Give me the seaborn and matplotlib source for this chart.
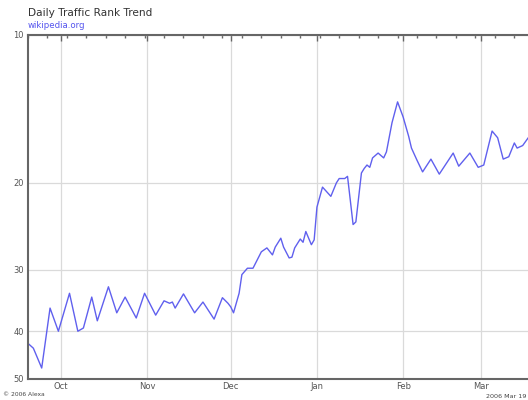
import matplotlib
matplotlib.use('Agg')
import matplotlib.pyplot as plt
import matplotlib.dates as mdates
from matplotlib.ticker import FixedLocator, FixedFormatter, NullFormatter
import pandas as pd
import seaborn as sns

# daily traffic rank (lower is better)
dates = [
    '2005-09-19', '2005-09-21', '2005-09-24', '2005-09-27', '2005-09-30',
    '2005-10-04', '2005-10-07', '2005-10-09', '2005-10-12', '2005-10-14',
    '2005-10-18', '2005-10-21', '2005-10-24', '2005-10-28', '2005-10-31',
    '2005-11-04', '2005-11-07', '2005-11-09', '2005-11-10', '2005-11-11',
    '2005-11-14', '2005-11-18', '2005-11-21', '2005-11-25', '2005-11-28',
    '2005-11-30', '2005-12-01', '2005-12-02', '2005-12-04', '2005-12-05',
    '2005-12-07', '2005-12-09', '2005-12-12', '2005-12-14', '2005-12-16',
    '2005-12-17', '2005-12-19', '2005-12-20', '2005-12-22', '2005-12-23',
    '2005-12-24', '2005-12-26', '2005-12-27', '2005-12-28', '2005-12-30',
    '2005-12-31', '2006-01-01', '2006-01-03', '2006-01-06', '2006-01-08',
    '2006-01-09', '2006-01-11', '2006-01-12', '2006-01-13', '2006-01-14',
    '2006-01-15', '2006-01-17', '2006-01-18', '2006-01-19', '2006-01-20',
    '2006-01-21', '2006-01-23', '2006-01-25', '2006-01-26', '2006-01-28',
    '2006-01-30', '2006-02-01', '2006-02-03', '2006-02-04', '2006-02-06',
    '2006-02-08', '2006-02-11', '2006-02-14', '2006-02-19', '2006-02-21',
    '2006-02-25', '2006-02-28', '2006-03-01', '2006-03-02', '2006-03-05',
    '2006-03-07', '2006-03-09', '2006-03-11', '2006-03-13', '2006-03-14',
    '2006-03-16', '2006-03-18', '2006-03-19',
]
ranks = [
    42.3, 43.3, 47.5, 35.9, 40.0,
    33.5, 40.0, 39.4, 34.1, 38.1,
    32.5, 36.7, 34.1, 37.6, 33.5,
    37.1, 34.7, 35.1, 34.9, 35.9,
    33.6, 36.7, 34.9, 37.8, 34.2,
    35.1, 35.7, 36.7, 33.5, 30.7,
    29.8, 29.8, 27.6, 27.1, 28.0,
    27.0, 25.9, 27.0, 28.4, 28.3,
    27.1, 26.0, 26.4, 25.1, 26.7,
    26.1, 22.4, 20.4, 21.3, 20.0,
    19.6, 19.6, 19.4, 21.7, 24.3,
    24.0, 19.1, 18.7, 18.4, 18.6,
    17.8, 17.4, 17.8, 17.3, 15.1,
    13.7, 14.7, 16.1, 17.0, 18.0,
    19.0, 17.9, 19.2, 17.4, 18.5,
    17.4, 18.6, 18.5, 18.4, 15.7,
    16.2, 17.9, 17.7, 16.6, 17.0,
    16.8, 16.2, 16.0,
]

y_ticks = [10, 20, 30, 40, 50]
y_minor = [12, 14, 16, 18, 22, 24, 26, 28, 32, 34, 36, 38, 42, 44, 46, 48]

df = pd.DataFrame({'date': pd.to_datetime(dates), 'rank': ranks})

sns.set_style('white')
plt.rcParams['font.family'] = ['DejaVu Sans']

fig = plt.figure(figsize=(5.28, 4.0), dpi=100)
# axes run past the right edge, as in the cropped original
ax = fig.add_axes([27.8 / 528, 21 / 400, 506 / 528, 344.5 / 400])

sns.lineplot(data=df, x='date', y='rank', ax=ax, color='#6060ee', lw=1.0)

ax.set_yscale('log')
ax.set_ylim(50, 10)
ax.set_xlim(pd.Timestamp('2005-09-19'), pd.Timestamp('2006-03-20'))
ax.yaxis.set_major_locator(FixedLocator(y_ticks))
ax.yaxis.set_major_formatter(FixedFormatter([str(t) for t in y_ticks]))
ax.yaxis.set_minor_locator(FixedLocator(y_minor))
ax.yaxis.set_minor_formatter(NullFormatter())

ax.xaxis.set_major_locator(mdates.MonthLocator())
ax.xaxis.set_major_formatter(mdates.DateFormatter('%b'))
ax.xaxis.set_minor_locator(mdates.WeekdayLocator(byweekday=mdates.MO))

ax.tick_params(axis='both', which='both', direction='in', colors='#666',
               labelcolor='#555', labelsize=6, width=1)
ax.tick_params(axis='x', which='both', top=True, pad=2)
ax.tick_params(axis='y', which='both', pad=3)
ax.tick_params(which='major', length=4)
ax.tick_params(which='minor', length=2.5)

ax.grid(True, which='major', color='#dadada', lw=0.9)
ax.set_axisbelow(True)
for side in ['top', 'left', 'bottom']:
    ax.spines[side].set_color('#666')
    ax.spines[side].set_linewidth(1.5)
ax.spines['right'].set_visible(False)
ax.set_xlabel('')
ax.set_ylabel('')

fig.text(28 / 528, 1 - 13 / 400, 'Daily Traffic Rank Trend', fontsize=7.6,
         color='#333', va='center', ha='left')
fig.text(28 / 528, 1 - 25 / 400, 'wikipedia.org', fontsize=6.2,
         color='#5555ee', va='center', ha='left')
fig.text(3 / 528, 1 - 395 / 400, '\u00a9 2006 Alexa', fontsize=4.3,
         color='#444', va='center', ha='left')
fig.text(486 / 528, 1 - 396 / 400, '2006 Mar 19', fontsize=4.6,
         color='#444', va='center', ha='left')

plt.savefig('out.png', dpi=100)
